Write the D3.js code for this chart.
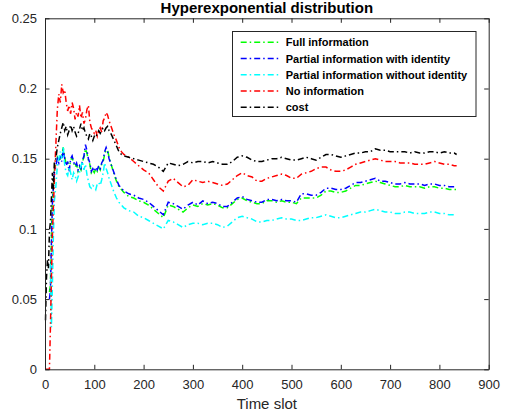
<!DOCTYPE html>
<html>
<head>
<meta charset="utf-8">
<script src="https://cdn.jsdelivr.net/npm/d3@7"></script>
<style>
  body { margin: 0; background: #fff; }
  text { font-family: "Liberation Sans", Arial, Helvetica, sans-serif; fill: #262626; }
  .title { font-size: 15px; font-weight: bold; fill: #000; }
  .axis-label { font-size: 15px; }
  .legend-text { font-size: 11px; font-weight: bold; fill: #000; }
</style>
</head>
<body>
<svg width="505" height="414"></svg>
<script>
const timeSlot = [1, 3, 5, 7, 9, 11, 13, 15, 17, 19,
  22, 25, 28, 31, 34, 37, 40, 43, 46, 49, 52, 55, 58, 61, 64, 67, 70, 73, 76, 79,
  82, 85, 88, 91, 94, 97, 100, 103, 106, 109, 112, 115, 118, 121, 124, 127, 130,
  135, 140, 145, 150, 155, 160,
  170, 180, 190, 200, 210, 220, 230, 240, 250, 260,
  270, 280, 290, 300, 310, 320, 330, 340, 350, 360,
  370, 380, 390, 400, 410, 420, 430, 440, 450, 460,
  470, 480, 490, 500, 510, 520, 530, 540, 550, 560,
  570, 580, 590, 600, 610, 620, 630, 640, 650, 660,
  670, 680, 690, 700, 710, 720, 730, 740, 750, 760,
  770, 780, 790, 800, 810, 820, 830, 835];

const fullInfo = [null, null, null, null, 0.055, 0.06, 0.095, 0.12, 0.128, 0.142,
  0.146, 0.151, 0.149, 0.15, 0.152, 0.158, 0.151, 0.146, 0.147, 0.142, 0.149, 0.151, 0.147, 0.144, 0.146, 0.141, 0.144, 0.142, 0.148, 0.151,
  0.157, 0.154, 0.149, 0.146, 0.14, 0.142, 0.14, 0.143, 0.141, 0.144, 0.142, 0.146, 0.148, 0.153, 0.156, 0.156, 0.151,
  0.145, 0.139, 0.134, 0.13, 0.128, 0.126,
  0.123, 0.122, 0.12, 0.119, 0.117, 0.114, 0.111, 0.108, 0.117, 0.116,
  0.114, 0.112, 0.115, 0.117, 0.116, 0.118, 0.117, 0.118, 0.117, 0.115,
  0.115, 0.118, 0.121, 0.122, 0.12, 0.119, 0.118, 0.118, 0.12, 0.12,
  0.119, 0.12, 0.119, 0.119, 0.118, 0.122, 0.122, 0.122, 0.122, 0.124,
  0.127, 0.127, 0.126, 0.126, 0.127, 0.129, 0.131, 0.131, 0.132, 0.133,
  0.134, 0.133, 0.132, 0.131, 0.13, 0.13, 0.131, 0.13, 0.13, 0.13,
  0.129, 0.13, 0.13, 0.129, 0.129, 0.128, 0.128, 0.128];

const partialWithId = [null, null, null, null, 0.05, 0.056, 0.09, 0.118, 0.13, 0.14,
  0.145, 0.15, 0.147, 0.152, 0.148, 0.157, 0.15, 0.145, 0.148, 0.141, 0.15, 0.152, 0.148, 0.145, 0.147, 0.142, 0.145, 0.143, 0.149, 0.152,
  0.16, 0.156, 0.15, 0.147, 0.141, 0.143, 0.141, 0.144, 0.142, 0.145, 0.143, 0.147, 0.149, 0.155, 0.158, 0.155, 0.15,
  0.145, 0.14, 0.135, 0.131, 0.129, 0.127,
  0.125, 0.124, 0.122, 0.121, 0.119, 0.116, 0.113, 0.11, 0.119, 0.118,
  0.116, 0.114, 0.117, 0.119, 0.117, 0.12, 0.118, 0.119, 0.118, 0.116,
  0.116, 0.119, 0.122, 0.123, 0.121, 0.12, 0.119, 0.119, 0.121, 0.121,
  0.12, 0.121, 0.12, 0.12, 0.119, 0.125, 0.125, 0.124, 0.124, 0.126,
  0.129, 0.129, 0.128, 0.128, 0.129, 0.131, 0.133, 0.133, 0.134, 0.135,
  0.136, 0.134, 0.134, 0.133, 0.132, 0.132, 0.133, 0.132, 0.132, 0.132,
  0.131, 0.132, 0.132, 0.131, 0.131, 0.13, 0.13, 0.13];

const partialWithoutId = [null, null, null, null, null, 0.075, 0.03, 0.06, 0.095, 0.12,
  0.13, 0.145, 0.15, 0.155, 0.15, 0.158, 0.145, 0.14, 0.138, 0.144, 0.14, 0.135, 0.14, 0.138, 0.134, 0.137, 0.14, 0.145, 0.148, 0.142,
  0.146, 0.139, 0.134, 0.13, 0.129, 0.131, 0.13, 0.128, 0.132, 0.133, 0.131, 0.135, 0.14, 0.147, 0.143, 0.14, 0.136,
  0.131, 0.126, 0.122, 0.119, 0.117, 0.115,
  0.113, 0.112, 0.109, 0.108, 0.106, 0.104, 0.102, 0.1, 0.106, 0.105,
  0.103, 0.101, 0.103, 0.104, 0.104, 0.103, 0.104, 0.104, 0.103, 0.101,
  0.102, 0.105, 0.108, 0.109, 0.108, 0.107, 0.105, 0.105, 0.106, 0.106,
  0.107, 0.108, 0.107, 0.107, 0.106, 0.106, 0.107, 0.108, 0.108, 0.109,
  0.11, 0.109, 0.108, 0.108, 0.109, 0.11, 0.111, 0.112, 0.112, 0.113,
  0.114, 0.113, 0.112, 0.112, 0.111, 0.111, 0.112, 0.112, 0.111, 0.111,
  0.111, 0.112, 0.112, 0.111, 0.111, 0.11, 0.11, 0.11];

const noInfo = [0, 0, 0, 0, 0, 0.03, 0.065, 0.095, 0.115, 0.135,
  0.16, 0.185, 0.196, 0.19, 0.203, 0.197, 0.199, 0.19, 0.184, 0.188, 0.182, 0.19, 0.186, 0.178, 0.183, 0.18, 0.188, 0.179, 0.183, 0.175,
  0.178, 0.185, 0.188, 0.176, 0.172, 0.17, 0.168, 0.17, 0.166, 0.17, 0.172, 0.169, 0.177, 0.179, 0.183, 0.181, 0.177,
  0.172, 0.167, 0.163, 0.158, 0.155, 0.153,
  0.151, 0.148, 0.145, 0.142, 0.14, 0.135, 0.13, 0.127, 0.134, 0.136,
  0.133, 0.13, 0.131, 0.135, 0.134, 0.133, 0.134, 0.133, 0.132, 0.131,
  0.132, 0.135, 0.138, 0.14, 0.138, 0.137, 0.134, 0.134, 0.136, 0.137,
  0.138, 0.139, 0.138, 0.136, 0.136, 0.139, 0.14, 0.141, 0.143, 0.144,
  0.144, 0.142, 0.141, 0.141, 0.142, 0.144, 0.146, 0.147, 0.148, 0.149,
  0.15, 0.149, 0.148, 0.148, 0.148, 0.147, 0.147, 0.147, 0.146, 0.146,
  0.146, 0.147, 0.148, 0.147, 0.146, 0.146, 0.145, 0.145];

const cost = [0.035, 0.065, 0.078, 0.072, 0.098, 0.105, 0.122, 0.14, 0.128, 0.148,
  0.15, 0.158, 0.163, 0.168, 0.172, 0.176, 0.17, 0.173, 0.167, 0.17, 0.174, 0.17, 0.173, 0.169, 0.166, 0.168, 0.171, 0.175, 0.17, 0.172,
  0.168, 0.166, 0.164, 0.168, 0.166, 0.163, 0.166, 0.165, 0.168, 0.17, 0.168, 0.17, 0.172, 0.17, 0.172, 0.173, 0.17,
  0.167, 0.163, 0.159, 0.155, 0.153, 0.152,
  0.151, 0.15, 0.149, 0.148, 0.147, 0.146, 0.144, 0.141, 0.147, 0.146,
  0.145, 0.146, 0.148, 0.147, 0.148, 0.148, 0.147, 0.148, 0.147, 0.146,
  0.146, 0.148, 0.151, 0.152, 0.151, 0.149, 0.148, 0.148, 0.149, 0.15,
  0.15, 0.151, 0.15, 0.149, 0.149, 0.15, 0.151, 0.15, 0.149, 0.151,
  0.153, 0.153, 0.152, 0.151, 0.152, 0.153, 0.154, 0.154, 0.155, 0.155,
  0.157, 0.156, 0.156, 0.155, 0.155, 0.155, 0.155, 0.154, 0.155, 0.154,
  0.154, 0.155, 0.155, 0.154, 0.155, 0.154, 0.154, 0.153];

const seriesNames = ['Full information', 'Partial information with identity',
  'Partial information without identity', 'No information', 'cost'];
const seriesColors = ['#00ff00', '#0000ff', '#00ffff', '#ff0000', '#000000'];
const seriesValues = [fullInfo, partialWithId, partialWithoutId, noInfo, cost];

const xTicks = [0, 100, 200, 300, 400, 500, 600, 700, 800, 900];
const yTicks = [0, 0.05, 0.1, 0.15, 0.2, 0.25];

const svg = d3.select('svg');
const margin = {top: 18.3, left: 45, right: 16.3, bottom: 44.7};
const width = +svg.attr('width');
const height = +svg.attr('height');
const innerWidth = width - margin.left - margin.right;
const innerHeight = height - margin.top - margin.bottom;

const xScale = d3.scaleLinear().domain([0, 900]).range([0, innerWidth]);
const yScale = d3.scaleLinear().domain([0, 0.25]).range([innerHeight, 0]);

const g = svg.append('g')
  .attr('transform', `translate(${margin.left},${margin.top})`);

// plot lines first, axes box on top
const lineGen = d3.line()
  .defined(d => d[1] != null)
  .x(d => xScale(d[0]))
  .y(d => yScale(d[1]));

const plotArea = g.append('g');
seriesValues.forEach((vals, i) => {
  const pts = timeSlot.map((t, k) => [t, vals[k]]);
  plotArea.append('path')
    .attr('d', lineGen(pts))
    .attr('fill', 'none')
    .attr('stroke', seriesColors[i])
    .attr('stroke-width', 1.5)
    .attr('stroke-dasharray', '6,3,1.5,3');
});

const tickLen = 4.5;
const yFmt = d => d === 0 ? '0' : String(+d.toFixed(2));

const yAxisG = g.append('g')
  .call(d3.axisLeft(yScale).tickValues(yTicks).tickFormat(yFmt)
    .tickSizeInner(-tickLen).tickSizeOuter(0).tickPadding(8));
const xAxisG = g.append('g')
  .attr('transform', `translate(0,${innerHeight})`)
  .call(d3.axisBottom(xScale).tickValues(xTicks)
    .tickSizeInner(-tickLen).tickSizeOuter(0).tickPadding(10));
const topAxisG = g.append('g')
  .call(d3.axisTop(xScale).tickValues(xTicks)
    .tickSizeInner(-tickLen).tickSizeOuter(0));
const rightAxisG = g.append('g')
  .attr('transform', `translate(${innerWidth},0)`)
  .call(d3.axisRight(yScale).tickValues(yTicks)
    .tickSizeInner(-tickLen).tickSizeOuter(0));

// mirrored box sides carry ticks only
topAxisG.selectAll('.tick text').remove();
rightAxisG.selectAll('.tick text').remove();

[yAxisG, xAxisG, topAxisG, rightAxisG].forEach(a => {
  a.attr('font-family', '"Liberation Sans", Arial, sans-serif')
    .attr('font-size', 13);
  a.selectAll('.domain').attr('stroke', '#262626');
  a.selectAll('.tick line').attr('stroke', '#262626');
  a.selectAll('.tick text').attr('fill', '#262626');
});

svg.append('text')
  .attr('class', 'title')
  .attr('x', margin.left + innerWidth / 2)
  .attr('y', 13)
  .attr('text-anchor', 'middle')
  .text('Hyperexponential distribution');

svg.append('text')
  .attr('class', 'axis-label')
  .attr('x', margin.left + innerWidth / 2)
  .attr('y', 409)
  .attr('text-anchor', 'middle')
  .text('Time slot');

// legend
const legend = svg.append('g');
legend.append('rect')
  .attr('x', 232.5).attr('y', 31.5)
  .attr('width', 243.5).attr('height', 85)
  .attr('fill', '#fff')
  .attr('stroke', '#262626')
  .attr('stroke-width', 1);

seriesNames.forEach((name, i) => {
  const cy = 42.3 + i * 16.25;
  legend.append('line')
    .attr('x1', 240.7).attr('x2', 280.7)
    .attr('y1', cy).attr('y2', cy)
    .attr('stroke', seriesColors[i])
    .attr('stroke-width', 1.5)
    .attr('stroke-dasharray', '6,3,1.5,3');
  legend.append('text')
    .attr('class', 'legend-text')
    .attr('x', 285.7)
    .attr('y', cy + 4)
    .text(name);
});
</script>
</body>
</html>
